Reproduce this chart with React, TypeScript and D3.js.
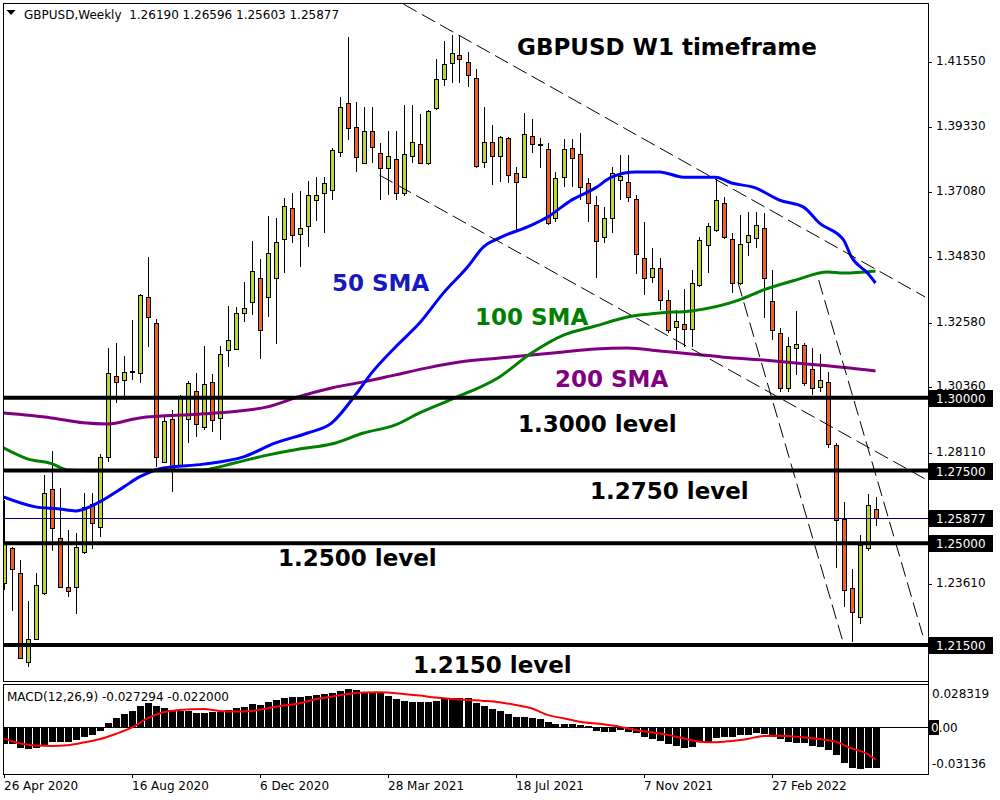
import React from "react";
import * as d3 from "d3";

// ---------- DATA (weekly GBPUSD, bar index 0 = week of 26 Apr 2020) ----------
const opens = [
  1.2363, 1.2484, 1.2398, 1.2092, 1.2171, 1.2329, 1.2687, 1.2518, 1.2350, 1.2350,
  1.2470, 1.2635, 1.2556, 1.2797, 1.3075, 1.3061, 1.3092, 1.3086, 1.3347, 1.3257,
  1.2779, 1.2927, 1.2769, 1.2927, 1.3024, 1.2900, 1.3055, 1.2931, 1.3165, 1.3168,
  1.3292, 1.3330, 1.3412, 1.3347, 1.3412, 1.3546, 1.3653, 1.3564, 1.3591, 1.3680,
  1.3705, 1.3715, 1.3846, 1.4014, 1.3931, 1.3808, 1.3918, 1.3842, 1.3790, 1.3821,
  1.3705, 1.3832, 1.3873, 1.3808, 1.3997, 1.4097, 1.4152, 1.4179, 1.4155, 1.4100,
  1.3811, 1.3880, 1.3832, 1.3894, 1.3773, 1.3760, 1.3901, 1.3873, 1.3856, 1.3619,
  1.3760, 1.3859, 1.3839, 1.3739, 1.3663, 1.3553, 1.3619, 1.3749, 1.3742, 1.3684,
  1.3481, 1.3416, 1.3447, 1.3337, 1.3244, 1.3254, 1.3237, 1.3388, 1.3526, 1.3577,
  1.3670, 1.3546, 1.3395, 1.3536, 1.3550, 1.3584, 1.3333, 1.3223, 1.3034, 1.3171,
  1.3182, 1.3099, 1.3037, 1.3055, 1.2838, 1.2583, 1.2346, 1.2246, 1.2484, 1.2619,
];
const highs = [
  1.2649, 1.2487, 1.2442, 1.2301, 1.2398, 1.2735, 1.2817, 1.2690, 1.2546, 1.2535,
  1.2673, 1.2673, 1.2807, 1.3171, 1.3189, 1.3144, 1.3268, 1.3357, 1.3484, 1.3271,
  1.2938, 1.2958, 1.3010, 1.3058, 1.3086, 1.3178, 1.3082, 1.3178, 1.3316, 1.3312,
  1.3398, 1.3539, 1.3478, 1.3625, 1.3619, 1.3687, 1.3705, 1.3711, 1.3746, 1.3760,
  1.3760, 1.3859, 1.4035, 1.4241, 1.4017, 1.4000, 1.4000, 1.3876, 1.3918, 1.3918,
  1.4007, 1.4007, 1.3976, 1.3990, 1.4165, 1.4227, 1.4248, 1.4248, 1.4189, 1.4131,
  1.4000, 1.3938, 1.3901, 1.3897, 1.3794, 1.3980, 1.3959, 1.3894, 1.3876, 1.3777,
  1.3890, 1.3890, 1.3911, 1.3756, 1.3694, 1.3656, 1.3794, 1.3835, 1.3835, 1.3698,
  1.3605, 1.3515, 1.3481, 1.3371, 1.3302, 1.3374, 1.3440, 1.3553, 1.3601, 1.3756,
  1.3691, 1.3567, 1.3629, 1.3639, 1.3639, 1.3636, 1.3440, 1.3240, 1.3209, 1.3299,
  1.3189, 1.3171, 1.3151, 1.3089, 1.2845, 1.2642, 1.2411, 1.2528, 1.2669, 1.26596,
];
const lows = [
  1.2339, 1.2267, 1.2102, 1.2074, 1.2167, 1.2322, 1.2473, 1.2346, 1.2315, 1.2257,
  1.2463, 1.2480, 1.2522, 1.2779, 1.2982, 1.2993, 1.3061, 1.3051, 1.3175, 1.2762,
  1.2776, 1.2676, 1.2766, 1.2845, 1.2865, 1.2889, 1.2883, 1.2855, 1.3106, 1.3165,
  1.3261, 1.3285, 1.3134, 1.3278, 1.3185, 1.3429, 1.3533, 1.3450, 1.3519, 1.3608,
  1.3567, 1.3680, 1.3828, 1.3887, 1.3777, 1.3804, 1.3808, 1.3680, 1.3698, 1.3680,
  1.3694, 1.3808, 1.3804, 1.3801, 1.3990, 1.4072, 1.4083, 1.4083, 1.4069, 1.3790,
  1.3790, 1.3732, 1.3742, 1.3739, 1.3577, 1.3756, 1.3842, 1.3790, 1.3594, 1.3605,
  1.3725, 1.3725, 1.3680, 1.3605, 1.3412, 1.3533, 1.3567, 1.3680, 1.3674, 1.3426,
  1.3354, 1.3395, 1.3302, 1.3223, 1.3165, 1.3175, 1.3175, 1.3381, 1.3429, 1.3570,
  1.3546, 1.3361, 1.3388, 1.3488, 1.3515, 1.3275, 1.3199, 1.3020, 1.3020, 1.3079,
  1.3041, 1.3010, 1.3020, 1.2828, 1.2415, 1.2281, 1.2160, 1.2222, 1.2473, 1.25603,
];
const closes = [
  1.2501, 1.2411, 1.2105, 1.2171, 1.2356, 1.2673, 1.2552, 1.2350, 1.2336, 1.2487,
  1.2625, 1.2570, 1.2797, 1.3086, 1.3055, 1.3089, 1.3094, 1.3354, 1.3278, 1.2797,
  1.2920, 1.2752, 1.3000, 1.3051, 1.2910, 1.3048, 1.2924, 1.3151, 1.3199, 1.3292,
  1.3309, 1.3436, 1.3233, 1.3498, 1.3536, 1.3660, 1.3560, 1.3584, 1.3698, 1.3698,
  1.3739, 1.3852, 1.4000, 1.3928, 1.3828, 1.3918, 1.3863, 1.3790, 1.3832, 1.3705,
  1.3839, 1.3880, 1.3808, 1.3987, 1.4097, 1.4148, 1.4186, 1.4165, 1.4110, 1.3797,
  1.3880, 1.3832, 1.3897, 1.3766, 1.3742, 1.3907, 1.3873, 1.3871, 1.3601, 1.3756,
  1.3856, 1.3825, 1.3725, 1.3670, 1.3539, 1.3619, 1.3773, 1.3763, 1.3691, 1.3495,
  1.3412, 1.3447, 1.3337, 1.3233, 1.3264, 1.3237, 1.3395, 1.3543, 1.3591, 1.3680,
  1.3553, 1.3395, 1.3529, 1.3560, 1.3594, 1.3412, 1.3233, 1.3034, 1.3178, 1.3185,
  1.3051, 1.3034, 1.3061, 1.2841, 1.2580, 1.2339, 1.2264, 1.2494, 1.2632, 1.25877,
];

// moving averages (bar index, value)
const sma50Bars = [0, 4, 7, 9, 12, 15, 17, 20, 25, 30, 34, 38, 41, 44, 46, 49, 52, 55, 58, 60, 62, 66, 68, 71, 74, 76, 79, 82, 85, 89, 91, 94, 97, 100, 102, 105, 106, 108, 109];
const sma50Vals = [1.2659, 1.2625, 1.2618, 1.2611, 1.2642, 1.2693, 1.2728, 1.2759, 1.2772, 1.2797, 1.2845, 1.2879, 1.2913, 1.3010, 1.3085, 1.3175, 1.3257, 1.3361, 1.3450, 1.3519, 1.3550, 1.3594, 1.3622, 1.3680, 1.3722, 1.3759, 1.3777, 1.3777, 1.3759, 1.3759, 1.3739, 1.3722, 1.3680, 1.3656, 1.3601, 1.3543, 1.3484, 1.3429, 1.3395];
const sma100Bars = [0, 3, 6, 8, 12, 17, 25, 29, 33, 37, 41, 45, 49, 52, 56, 62, 66, 70, 74, 78, 82, 86, 92, 95, 99, 103, 105, 109];
const sma100Vals = [1.2828, 1.2790, 1.2774, 1.2752, 1.2749, 1.2749, 1.2753, 1.2777, 1.2803, 1.2824, 1.2841, 1.2879, 1.2907, 1.2948, 1.2995, 1.3072, 1.3154, 1.3216, 1.3247, 1.3278, 1.3292, 1.3299, 1.3337, 1.3371, 1.3405, 1.3433, 1.3429, 1.3436];
const sma200Bars = [0, 6, 10, 13, 17, 25, 33, 37, 41, 45, 49, 53, 57, 62, 66, 70, 74, 78, 82, 86, 90, 95, 99, 103, 109];
const sma200Vals = [1.2948, 1.2931, 1.2914, 1.2910, 1.2931, 1.2945, 1.2969, 1.3005, 1.3034, 1.3055, 1.3079, 1.3103, 1.3123, 1.3137, 1.3147, 1.3158, 1.3168, 1.3171, 1.3161, 1.3151, 1.3140, 1.3130, 1.3120, 1.3110, 1.3092];

// MACD histogram (one value per bar) and signal line
const macdHist = [
  -0.0117, -0.0117, -0.0144, -0.0151, -0.0144, -0.0126, -0.0100, -0.0100, -0.0100, -0.0089,
  -0.0066, -0.0055, -0.0027, 0.0027, 0.0060, 0.0084, 0.0104, 0.0137, 0.0155, 0.0137,
  0.0122, 0.0111, 0.0106, 0.0106, 0.0093, 0.0093, 0.0095, 0.0100, 0.0111, 0.0122,
  0.0133, 0.0148, 0.0144, 0.0162, 0.0177, 0.0188, 0.0195, 0.0195, 0.0204, 0.0208,
  0.0215, 0.0222, 0.0237, 0.0248, 0.0244, 0.0233, 0.0233, 0.0226, 0.0206, 0.0184,
  0.0173, 0.0166, 0.0166, 0.0166, 0.0173, 0.0188, 0.0188, 0.0188, 0.0188, 0.0160,
  0.0137, 0.0115, 0.0106, 0.0082, 0.0066, 0.0066, 0.0060, 0.0051, 0.0033, 0.0018,
  0.0018, 0.0018, 0.0011, 0.0004, -0.0029, -0.0033, -0.0033, -0.0022, -0.0033, -0.0044,
  -0.0066, -0.0082, -0.0095, -0.0117, -0.0126, -0.0140, -0.0133, -0.0100, -0.0100, -0.0073,
  -0.0066, -0.0066, -0.0055, -0.0055, -0.0044, -0.0049, -0.0066, -0.0084, -0.0100, -0.0111,
  -0.0111, -0.0126, -0.0133, -0.0155, -0.0188, -0.0239, -0.0277, -0.0284, -0.0273, -0.027294,
];
const signalBars = [0, 2, 4, 6, 8, 10, 12, 14, 16, 18, 20, 22, 25, 27, 29, 31, 33, 35, 37, 39, 41, 43, 45, 47, 50, 52, 54, 56, 58, 60, 62, 64, 66, 68, 70, 72, 75, 77, 79, 81, 83, 85, 87, 89, 91, 93, 95, 97, 100, 102, 104, 106, 108, 109];
const signalVals = [-0.0078, -0.0111, -0.0126, -0.0129, -0.0124, -0.0106, -0.0084, -0.0049, -0.0007, 0.0055, 0.0095, 0.0111, 0.0117, 0.0104, 0.0100, 0.0104, 0.0122, 0.0140, 0.0155, 0.0182, 0.0199, 0.0217, 0.0226, 0.0228, 0.0217, 0.0206, 0.0193, 0.0184, 0.0177, 0.0171, 0.0162, 0.0144, 0.0122, 0.0078, 0.0055, 0.0033, 0.0016, 0.0, -0.0022, -0.0038, -0.0055, -0.0078, -0.0100, -0.0104, -0.0095, -0.0082, -0.0062, -0.0060, -0.0071, -0.0082, -0.0100, -0.0144, -0.0182, -0.022];

// trend lines: [bar1, price1, bar2, price2]
const trendLines = [
  [50, 1.4354, 115.2, 1.3347],
  [47, 1.3766, 115.4, 1.2718],
  [91.8, 1.3398, 104.9, 1.2164],
  [101.9, 1.3405, 114.9, 1.2184],
];

const priceTicks = [1.4155, 1.3933, 1.3708, 1.3483, 1.3258, 1.3036, 1.2811, 1.2361];
const levelPrices = [1.3, 1.275, 1.25, 1.215];
const levelLabels = ["1.3000 level", "1.2750 level", "1.2500 level", "1.2150 level"];
const lastPrice = 1.25877;
const dateTickBars = [0, 16, 32, 48, 64, 80, 96];
const dateTickLabels = ["26 Apr 2020", "16 Aug 2020", "6 Dec 2020", "28 Mar 2021", "18 Jul 2021", "7 Nov 2021", "27 Feb 2022"];
const macdMax = 0.028319;
const macdMin = -0.03136;

// ---------- LAYOUT ----------
const LEFT = 3;
const RIGHT = 928;
const MAIN_TOP = 3;
const MAIN_BOTTOM = 681;
const MACD_TOP = 684;
const MACD_BOTTOM = 774;
const BULL = "#bfd62b";
const BEAR = "#f2621f";
const FONT = "'DejaVu Sans', Verdana, sans-serif";

export default function App() {
  const x = d3.scaleLinear().domain([0, 109]).range([3.5, 875.5]);
  const y = d3.scaleLinear().domain([1.215, 1.4155]).range([645, 62]);
  const ym = d3.scaleLinear().domain([macdMin, macdMax]).range([MACD_BOTTOM - 0.2, MACD_TOP]);

  const maLine = (bars: number[], vals: number[]) =>
    d3.line<number>().x((_, k) => x(bars[k])).y((v) => y(v)).curve(d3.curveMonotoneX)(vals) || "";
  const sigPath =
    d3.line<number>().x((_, k) => x(signalBars[k])).y((v) => ym(v)).curve(d3.curveMonotoneX)(signalVals) || "";

  const fmt = d3.format(".5f");
  const zeroY = Math.round(ym(0));

  return (
    <svg width={1000} height={800} style={{ position: "absolute", left: 0, top: 0, background: "#fff" }} fontFamily={FONT}>
      <defs>
        <clipPath id="mainClip">
          <rect x={LEFT + 1} y={MAIN_TOP + 1} width={RIGHT - LEFT - 1} height={MAIN_BOTTOM - MAIN_TOP - 1} />
        </clipPath>
        <clipPath id="macdClip">
          <rect x={LEFT + 1} y={MACD_TOP + 1} width={RIGHT - LEFT - 1} height={MACD_BOTTOM - MACD_TOP - 1} />
        </clipPath>
        <clipPath id="zeroBoxClip">
          <rect x={RIGHT + 1} y={zeroY - 7} width={10} height={15} />
        </clipPath>
      </defs>
      <rect x={0} y={0} width={1000} height={800} fill="#fff" />

      {/* ---------- main price panel ---------- */}
      <g clipPath="url(#mainClip)">
        {opens.map((o, i) => {
          const c = closes[i];
          const cx = Math.round(x(i));
          const top = y(Math.max(o, c));
          const bot = y(Math.min(o, c));
          const bull = c >= o;
          return (
            <g key={i} shapeRendering="crispEdges">
              <line x1={cx + 0.5} x2={cx + 0.5} y1={y(highs[i])} y2={y(lows[i])} stroke="#000" strokeWidth={1} />
              <rect
                x={cx - 1.5}
                y={Math.round(top) + 0.5}
                width={4}
                height={Math.max(1, Math.round(bot) - Math.round(top))}
                fill={bull ? BULL : BEAR}
                stroke="#000"
                strokeWidth={1}
              />
            </g>
          );
        })}

        {/* moving averages */}
        <path d={maLine(sma200Bars, sma200Vals)} fill="none" stroke="#800080" strokeWidth={3} />
        <path d={maLine(sma100Bars, sma100Vals)} fill="none" stroke="#008000" strokeWidth={3} />
        <path d={maLine(sma50Bars, sma50Vals)} fill="none" stroke="#0000ff" strokeWidth={3} />

        {/* current price line */}
        <line x1={LEFT} x2={RIGHT} y1={Math.round(y(lastPrice)) + 0.5} y2={Math.round(y(lastPrice)) + 0.5} stroke="#000080" strokeWidth={1} />

        {/* horizontal levels */}
        {levelPrices.map((p) => (
          <line key={p} x1={LEFT} x2={RIGHT} y1={y(p)} y2={y(p)} stroke="#000" strokeWidth={4} />
        ))}

        {/* trend lines */}
        {trendLines.map((t, k) => (
          <line
            key={k}
            x1={x(t[0])}
            y1={y(t[1])}
            x2={x(t[2])}
            y2={y(t[3])}
            stroke="#000"
            strokeWidth={1}
            strokeDasharray="15,6"
          />
        ))}
      </g>

      {/* annotations */}
      <g fontWeight="bold" fontSize={23}>
        <text x={517} y={55} fill="#000">GBPUSD W1 timeframe</text>
        <text x={332} y={291} fill="#1818c0">50 SMA</text>
        <text x={475} y={325} fill="#008000">100 SMA</text>
        <text x={555} y={387} fill="#800080">200 SMA</text>
        <text x={518} y={432} fill="#000">{levelLabels[0]}</text>
        <text x={590} y={499} fill="#000">{levelLabels[1]}</text>
        <text x={278} y={566} fill="#000">{levelLabels[2]}</text>
        <text x={413} y={673} fill="#000">{levelLabels[3]}</text>
      </g>

      {/* header */}
      <polygon points="6.5,10 15.5,10 11,15" fill="#000" />
      <text x={24} y={18.5} fontSize={12} fill="#000" style={{ whiteSpace: "pre" }}>
        {`GBPUSD,Weekly  ${fmt(opens[109])} ${fmt(highs[109])} ${fmt(lows[109])} ${fmt(closes[109])}`}
      </text>

      {/* frames */}
      <g shapeRendering="crispEdges" stroke="#000" strokeWidth={1}>
        <line x1={LEFT} x2={RIGHT} y1={MAIN_TOP + 0.5} y2={MAIN_TOP + 0.5} />
        <line x1={LEFT + 0.5} x2={LEFT + 0.5} y1={MAIN_TOP} y2={MAIN_BOTTOM} />
        <line x1={LEFT} x2={RIGHT} y1={MAIN_BOTTOM + 0.5} y2={MAIN_BOTTOM + 0.5} />
        <line x1={LEFT} x2={RIGHT} y1={MACD_TOP + 0.5} y2={MACD_TOP + 0.5} />
        <line x1={LEFT + 0.5} x2={LEFT + 0.5} y1={MACD_TOP} y2={MACD_BOTTOM} />
        <line x1={LEFT} x2={RIGHT} y1={MACD_BOTTOM + 0.5} y2={MACD_BOTTOM + 0.5} />
        <line x1={RIGHT + 0.5} x2={RIGHT + 0.5} y1={MAIN_TOP} y2={MACD_BOTTOM + 1} />
      </g>

      {/* price axis */}
      {priceTicks.map((p) => (
        <g key={p}>
          <line x1={RIGHT} x2={RIGHT + 4} y1={Math.round(y(p)) + 0.5} y2={Math.round(y(p)) + 0.5} stroke="#000" />
          <text x={936} y={y(p) - 1} fontSize={12} dominantBaseline="central" fill="#000">
            {fmt(p)}
          </text>
        </g>
      ))}
      {[...levelPrices, lastPrice].map((p) => (
        <g key={"b" + p}>
          <rect x={RIGHT + 1} y={Math.round(y(p)) - 8} width={64} height={17} fill="#000" />
          <text x={936} y={y(p) + 1} fontSize={12} dominantBaseline="central" fill="#fff">
            {fmt(p)}
          </text>
        </g>
      ))}

      {/* ---------- MACD panel ---------- */}
      <g clipPath="url(#macdClip)" shapeRendering="crispEdges">
        {macdHist.map((v, i) => {
          const cx = Math.round(x(i));
          const y0 = ym(0);
          const y1 = ym(v);
          return <rect key={i} x={cx - 3} y={Math.min(y0, y1)} width={7} height={Math.abs(y1 - y0)} fill="#000" />;
        })}
        <line x1={LEFT} x2={RIGHT} y1={zeroY + 0.5} y2={zeroY + 0.5} stroke="#000" />
      </g>
      <g clipPath="url(#macdClip)">
        <path d={sigPath} fill="none" stroke="#ff0000" strokeWidth={2} />
      </g>
      <text x={7} y={701} fontSize={12} fill="#000" style={{ whiteSpace: "pre" }}>
        {`MACD(12,26,9) ${macdHist[109].toFixed(6)} ${signalVals[signalVals.length - 1].toFixed(6)}`}
      </text>
      <text x={932} y={ym(macdMax) + 10} fontSize={12} dominantBaseline="central" fill="#000">
        {macdMax.toFixed(6)}
      </text>
      <rect x={RIGHT + 1} y={zeroY - 7} width={10} height={15} fill="#000" />
      <line x1={RIGHT} x2={RIGHT + 4} y1={zeroY + 0.5} y2={zeroY + 0.5} stroke="#000" />
      <text x={931} y={ym(0) + 1} fontSize={12} dominantBaseline="central" fill="#000">
        0.00
      </text>
      <text x={931} y={ym(0) + 1} fontSize={12} dominantBaseline="central" fill="#fff" clipPath="url(#zeroBoxClip)">
        0.00
      </text>
      <text x={932} y={ym(macdMin) - 10} fontSize={12} dominantBaseline="central" fill="#000">
        {macdMin.toFixed(5)}
      </text>

      {/* date axis */}
      {dateTickBars.map((b, k) => (
        <g key={b}>
          <line x1={Math.round(x(b)) + 0.5} x2={Math.round(x(b)) + 0.5} y1={MACD_BOTTOM} y2={MACD_BOTTOM + 4} stroke="#000" />
          <text x={Math.round(x(b))} y={790} fontSize={12} fill="#000">
            {dateTickLabels[k]}
          </text>
        </g>
      ))}
    </svg>
  );
}
